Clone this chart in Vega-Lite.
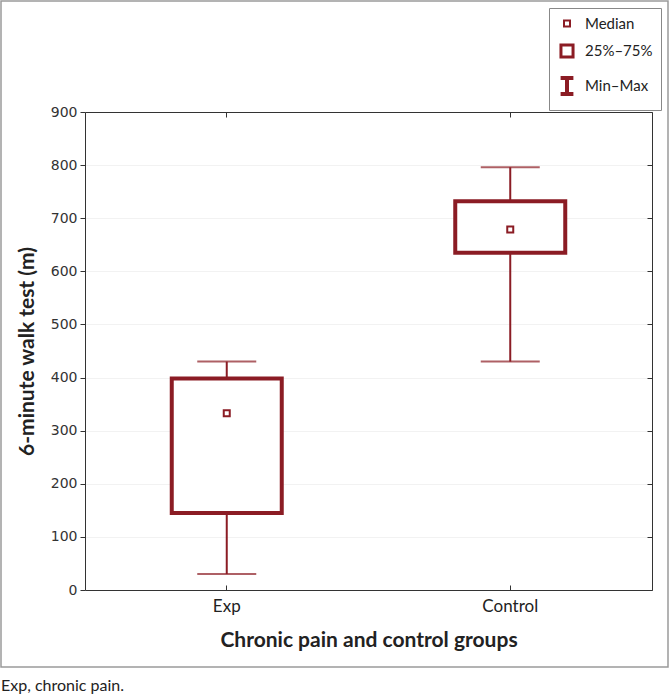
{
  "$schema": "https://vega.github.io/schema/vega-lite/v6.json",
  "width": 667,
  "height": 666,
  "padding": {"left": 1, "top": 1, "right": 2, "bottom": 29},
  "autosize": {"type": "none"},
  "background": "white",
  "config": {
    "view": {"stroke": "#9a9a9a", "strokeWidth": 1.5},
    "font": "Lato"
  },
  "title": {
    "text": "Exp, chronic pain.",
    "orient": "bottom",
    "anchor": "start",
    "frame": "group",
    "offset": 11,
    "fontSize": 16,
    "fontWeight": "normal",
    "font": "Lato",
    "color": "#222"
  },
  "data": {
    "values": [
      {"group": "Exp", "Min": 30, "Q1": 145, "Median": 333, "Q3": 398, "Max": 430},
      {"group": "Control", "Min": 430, "Q1": 635, "Median": 679, "Q3": 732, "Max": 796}
    ]
  },
  "layer": [
    {
      "mark": {"type": "rule", "color": "#8b1c24", "strokeWidth": 2},
      "encoding": {
        "x": {
          "field": "group",
          "type": "nominal",
          "sort": ["Exp", "Control"],
          "scale": {"range": [84, 651], "paddingInner": 0, "paddingOuter": 0},
          "axis": {
            "orient": "bottom",
            "offset": -77,
            "title": "Chronic pain and control groups",
            "titleFontSize": 21,
            "titleFontWeight": "bold",
            "titleColor": "#222",
            "titlePadding": 15,
            "labelAngle": 0,
            "labelFontSize": 17,
            "labelFontWeight": "normal",
            "labelColor": "#222",
            "labelPadding": 13,
            "domainColor": "#333",
            "tickColor": "#333",
            "tickSize": -5,
            "grid": false
          }
        },
        "y": {
          "field": "Min",
          "type": "quantitative",
          "scale": {"domain": [0, 900], "range": [589, 111], "nice": false},
          "axis": {
            "orient": "left",
            "offset": -84,
            "values": [0, 100, 200, 300, 400, 500, 600, 700, 800, 900],
            "title": "6-minute walk test (m)",
            "titleFontSize": 21,
            "titleFontWeight": "bold",
            "titleColor": "#222",
            "titlePadding": 13,
            "labelFont": "DejaVu Sans",
            "labelFontSize": 14,
            "labelFontWeight": "normal",
            "labelColor": "#333",
            "labelPadding": 3,
            "domainColor": "#333",
            "tickColor": "#333",
            "tickSize": 5,
            "grid": true,
            "gridColor": "#f2f2f2"
          }
        },
        "y2": {"field": "Q1"}
      }
    },
    {
      "mark": {"type": "rule", "color": "#8b1c24", "strokeWidth": 2},
      "encoding": {
        "x": {"field": "group", "type": "nominal", "sort": ["Exp", "Control"], "axis": null},
        "y": {
          "field": "Q3",
          "type": "quantitative",
          "axis": {
            "orient": "right",
            "offset": -16,
            "values": [0, 100, 200, 300, 400, 500, 600, 700, 800, 900],
            "title": null,
            "labels": false,
            "domainColor": "#333",
            "tickColor": "#333",
            "tickSize": -5,
            "grid": false
          }
        },
        "y2": {"field": "Max"}
      }
    },
    {
      "mark": {"type": "tick", "color": "#8b1c24", "size": 59, "thickness": 2},
      "encoding": {
        "x": {
          "field": "group",
          "type": "nominal",
          "sort": ["Exp", "Control"],
          "axis": {
            "orient": "top",
            "offset": -111,
            "title": null,
            "labels": false,
            "domainColor": "#333",
            "tickColor": "#333",
            "tickSize": -5,
            "grid": false
          }
        },
        "y": {"field": "Min", "type": "quantitative", "axis": null}
      }
    },
    {
      "mark": {"type": "tick", "color": "#8b1c24", "size": 59, "thickness": 2},
      "encoding": {
        "x": {"field": "group", "type": "nominal", "sort": ["Exp", "Control"], "axis": null},
        "y": {"field": "Max", "type": "quantitative", "axis": null}
      }
    },
    {
      "mark": {"type": "bar", "fill": "white", "stroke": "#8b1c24", "strokeWidth": 4, "size": 110},
      "encoding": {
        "x": {"field": "group", "type": "nominal", "sort": ["Exp", "Control"], "axis": null},
        "y": {"field": "Q1", "type": "quantitative", "axis": null},
        "y2": {"field": "Q3"}
      }
    },
    {
      "transform": [{"fold": ["Median"], "as": ["stat", "value"]}],
      "mark": {"type": "point", "filled": false, "fill": "white", "color": "#8b1c24", "opacity": 1},
      "encoding": {
        "x": {"field": "group", "type": "nominal", "sort": ["Exp", "Control"], "axis": null},
        "y": {"field": "value", "type": "quantitative", "axis": null},
        "shape": {
          "field": "stat",
          "type": "nominal",
          "scale": {
            "domain": ["Median", "25%–75%", "Min–Max"],
            "range": ["square", "square", "M-0.8,-1H0.8M0,-1V1M-0.8,1H0.8"]
          },
          "legend": {
            "orient": "none",
            "legendX": 548,
            "legendY": 7,
            "title": null,
            "strokeColor": "#888",
            "padding": 8,
            "rowPadding": 6,
            "labelFontSize": 15,
            "labelColor": "#222",
            "labelOffset": 8,
            "symbolFillColor": "white",
            "symbolStrokeColor": "#8b1c24",
            "symbolOpacity": 1
          }
        },
        "size": {
          "field": "stat",
          "type": "nominal",
          "scale": {
            "domain": ["Median", "25%–75%", "Min–Max"],
            "range": [36, 256, 324]
          }
        },
        "strokeWidth": {
          "field": "stat",
          "type": "nominal",
          "scale": {
            "domain": ["Median", "25%–75%", "Min–Max"],
            "range": [2, 4, 1.5]
          }
        }
      }
    }
  ]
}
